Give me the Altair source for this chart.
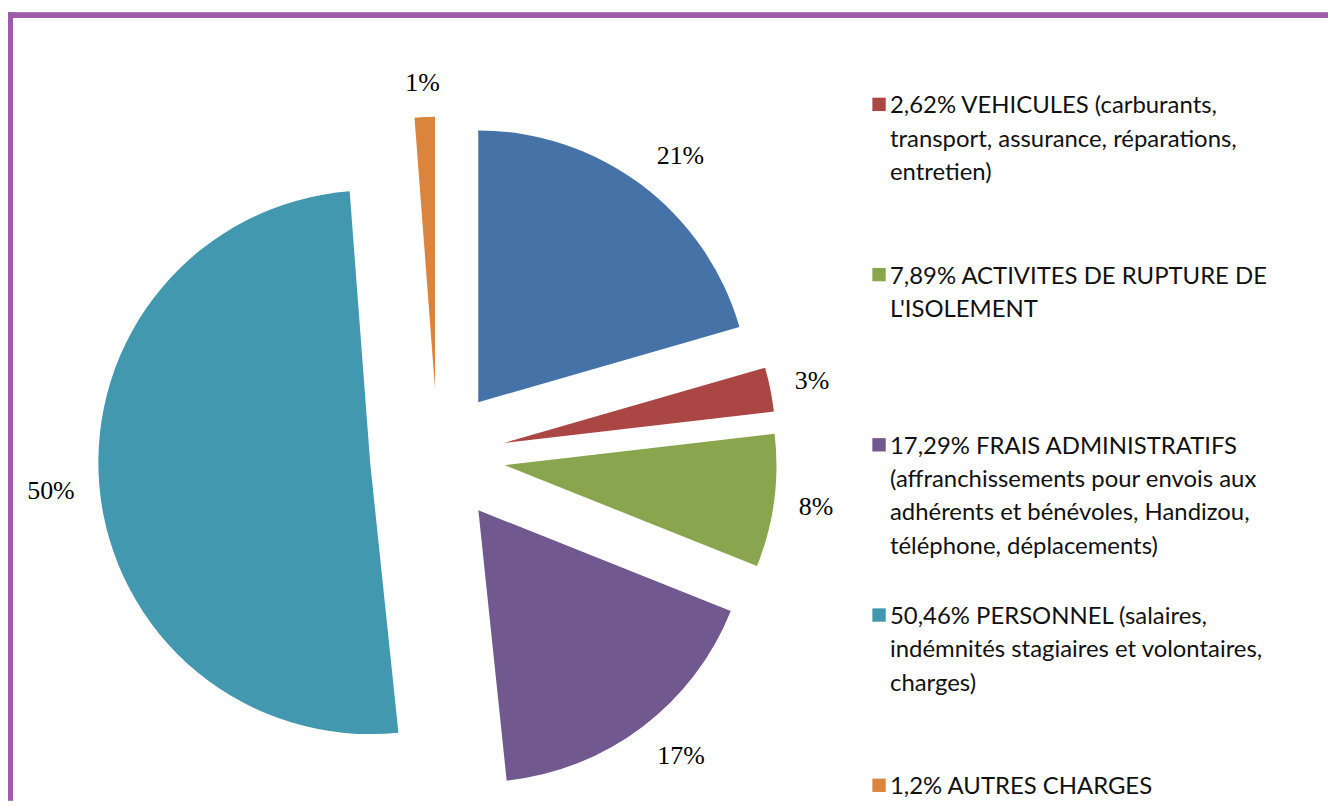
import altair as alt
import pandas as pd

# ---- data ----
slice_names = ["Autre", "Véhicules", "Activités", "Frais administratifs", "Personnel", "Autres charges"]
slice_values = [20.54, 2.62, 7.89, 17.29, 50.46, 1.20]
slice_labels = ["21%", "3%", "8%", "17%", "50%", "1%"]
slice_colors = ["#4572A7", "#AA4643", "#89A54E", "#71588F", "#4198AF", "#DB843D"]

legend_names = ["Véhicules", "Activités", "Frais administratifs", "Personnel", "Autres charges"]
legend_texts = [
    "2,62% VEHICULES (carburants,\ntransport,  assurance, réparations,\nentretien)",
    "7,89% ACTIVITES DE RUPTURE DE\nL'ISOLEMENT",
    "17,29% FRAIS ADMINISTRATIFS\n(affranchissements  pour envois aux\nadhérents  et bénévoles, Handizou,\ntéléphone,  déplacements)",
    "50,46% PERSONNEL (salaires,\nindémnités  stagiaires et volontaires,\ncharges)",
    "1,2% AUTRES CHARGES",
]

# ---- layout constants ----
W, H = 1326, 794
CX, CY = 431.5, 448.5
R = 273
EXPLODE = 68
LR = 366
FRAME = "#9C5CA8"

slices = pd.DataFrame({
    "cat": slice_names,
    "value": slice_values,
    "label": slice_labels,
    "order": list(range(len(slice_names))),
})
legend = pd.DataFrame({
    "cat": legend_names,
    "text": legend_texts,
    "idx": list(range(len(legend_names))),
})

color = alt.Color("cat:N", scale=alt.Scale(domain=slice_names, range=slice_colors), legend=None)

base = (
    alt.Chart(slices)
    .transform_window(cum="sum(value)", sort=[alt.SortField("order")], frame=[None, 0])
    .transform_joinaggregate(total="sum(value)")
    .transform_calculate(
        t0="(datum.cum - datum.value) / datum.total * 2 * PI",
        t1="datum.cum / datum.total * 2 * PI",
    )
    .transform_calculate(mid="(datum.t0 + datum.t1) / 2")
)

arcs = base.transform_calculate(
    px=f"{CX} + {EXPLODE} * sin(datum.mid)",
    py=f"{CY} - {EXPLODE} * cos(datum.mid)",
).mark_arc(outerRadius=R, stroke=None).encode(
    x=alt.X("px:Q", scale=None, axis=None),
    y=alt.Y("py:Q", scale=None, axis=None),
    theta=alt.Theta("t0:Q", scale=None),
    theta2=alt.Theta2("t1:Q"),
    color=color,
)

labels = base.transform_calculate(
    hw="(length(datum.label) - 1) * 6.5 + 10.85",
).transform_calculate(
    lx=f"{CX} + {LR} * sin(datum.mid) + datum.hw * clamp(2 * sin(datum.mid), -1, 1)",
    ly=f"{CY} - {LR} * cos(datum.mid) + 9 * clamp(-2 * cos(datum.mid), -1, 1)",
).mark_text(
    font="Liberation Serif", fontSize=26, color="#000000", align="center", baseline="middle"
).encode(
    x=alt.X("lx:Q", scale=None, axis=None),
    y=alt.Y("ly:Q", scale=None, axis=None),
    text="label:N",
)

leg_base = alt.Chart(legend).transform_calculate(sy="95 + datum.idx * 171")

leg_sq = leg_base.mark_square(size=180, opacity=1).encode(
    x=alt.value(875),
    y=alt.Y("sy:Q", scale=None, axis=None),
    color=color,
)

leg_txt = leg_base.mark_text(
    font="Lato", fontSize=24, color="#111111", align="left", baseline="alphabetic",
    lineBreak="\n", lineHeight=33.5, dy=9,
).encode(
    x=alt.value(886),
    y=alt.Y("sy:Q", scale=None, axis=None),
    text="text:N",
)

frame_top = alt.Chart(slices).mark_rule(color=FRAME, strokeWidth=5).encode(
    x=alt.value(0), x2=alt.value(W), y=alt.value(5.5)
)
frame_left = alt.Chart(slices).mark_rule(color=FRAME, strokeWidth=5).encode(
    x=alt.value(2.5), y=alt.value(3), y2=alt.value(H)
)

chart = alt.layer(frame_top, frame_left, arcs, labels, leg_sq, leg_txt).properties(
    width=W, height=H, padding=0, autosize="none", background="white"
).configure_view(stroke=None)

chart.save("out.html", embed_options={"renderer": "svg", "actions": False})
